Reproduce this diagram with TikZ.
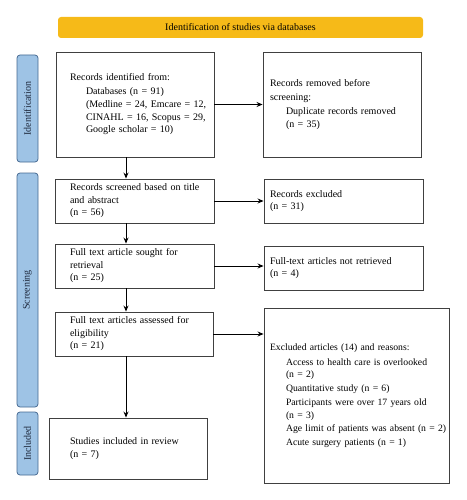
\documentclass[tikz,border=0pt]{standalone}
\usepackage{fontspec}
\setmainfont{Liberation Serif}
\usetikzlibrary{arrows.meta}

\definecolor{bannerYellow}{RGB}{246,186,24}
\definecolor{stageBlue}{RGB}{158,195,229}
\definecolor{stageEdge}{RGB}{70,105,145}
\definecolor{stageText}{RGB}{30,40,60}
\definecolor{boxEdge}{RGB}{64,64,64}

\tikzset{every picture/.style={line width=0.75pt}}
\tikzset{
  flowbox/.style={draw=boxEdge, line width=0.9pt, align=left, inner xsep=4pt, inner ysep=2pt, font=\fontsize{10}{12.5}\selectfont},
  stagebox/.style={draw=stageEdge, fill=stageBlue, text=stageText, rounded corners=3pt, rotate=90, minimum height=21pt, inner sep=0pt, font=\fontsize{10}{12}\selectfont},
  flowarrow/.style={-{Stealth[length=6pt,width=5pt]}, line width=1pt, black},
}
\newcommand{\ind}{\hspace*{16pt}}

\begin{document}
\begin{tikzpicture}[x=1pt,y=1pt,yscale=-1]
\useasboundingbox (0,0) rectangle (466,500);

%Shape: Banner
\node (banner) at (240.5,27.5) [fill=bannerYellow, rounded corners=3pt, minimum width=365pt, minimum height=21pt, inner sep=0pt, font=\fontsize{10}{12}\selectfont] {Identification of studies via databases};

%Shape: Stage labels
\node (ident) at (27.5,108.5) [stagebox, minimum width=107pt] {Identification};
\node (screen) at (27.5,290) [stagebox, minimum width=234pt] {Screening};
\node (incl) at (27.5,443.5) [stagebox, minimum width=63pt] {Included};

%Shape: Left column
\node (found) at (135,104.5) [flowbox, text width=150pt, minimum height=105pt] {\leftskip=10pt
Records identified from:\\[1pt]
\ind Databases (n = 91)\\[1pt]
\ind (Medline = 24, Emcare = 12,\\
\ind CINAHL = 16, Scopus = 29,\\
\ind Google scholar = 10)\par};
\node (screened) at (134.5,201) [flowbox, text width=151pt, minimum height=44pt] {\leftskip=11pt
Records screened based on title\\
and abstract\\
(n = 56)\par};
\node (sought) at (134.5,266) [flowbox, text width=151pt, minimum height=44pt] {\leftskip=11pt
Full text article sought for\\
retrieval\\
(n = 25)\par};
\node (assessed) at (134,334) [flowbox, text width=150pt, minimum height=44pt] {\leftskip=11pt
Full text articles assessed for\\
eligibility\\
(n = 21)\par};
\node (included) at (128,448.5) [flowbox, text width=150pt, minimum height=61pt] {\leftskip=17pt
Studies included in review\\
(n = 7)\par};

%Shape: Right column
\node (removed) at (342,104.5) [flowbox, text width=150pt, minimum height=105pt] {\leftskip=3pt
Records removed before\\[1pt]
screening:\\[2pt]
\ind Duplicate records removed\\
\ind (n = 35)\par};
\node (excluded) at (343.5,201) [flowbox, text width=151pt, minimum height=44pt] {\leftskip=2pt
Records excluded\\
(n = 31)\par};
\node (notret) at (343.5,268) [flowbox, text width=151pt, minimum height=44pt] {\leftskip=2pt
Full-text articles not retrieved\\
(n = 4)\par};
\node (reasons) at (356.5,395.5) [flowbox, inner xsep=2pt, text width=181pt, minimum height=175pt, font=\fontsize{9.7}{12.5}\selectfont] {\leftskip=4pt
Excluded articles (14) and reasons:\\[2pt]
\ind Access to health care is overlooked\\
\ind (n = 2)\\[1pt]
\ind Quantitative study (n = 6)\\[2pt]
\ind Participants were over 17 years old\\
\ind (n = 3)\\[1pt]
\ind\mbox{Age limit of patients was absent (n = 2)}\\[1pt]
\ind Acute surgery patients (n = 1)\par};

%Straight Lines
\coordinate (spine) at (126,0);
\draw[flowarrow] (found.south -| spine) -- (screened.north -| spine);
\draw[flowarrow] (screened.south -| spine) -- (sought.north -| spine);
\draw[flowarrow] (sought.south -| spine) -- (assessed.north -| spine);
\draw[flowarrow] (assessed.south -| spine) -- (included.north -| spine);

\draw[flowarrow] (found.east) -- (found.east -| removed.west);
\draw[flowarrow] (screened.east) -- (screened.east -| excluded.west);
\draw[flowarrow] (sought.east) -- (sought.east -| notret.west);
\draw[flowarrow] (assessed.east) -- (assessed.east -| reasons.west);
\end{tikzpicture}
\end{document}
